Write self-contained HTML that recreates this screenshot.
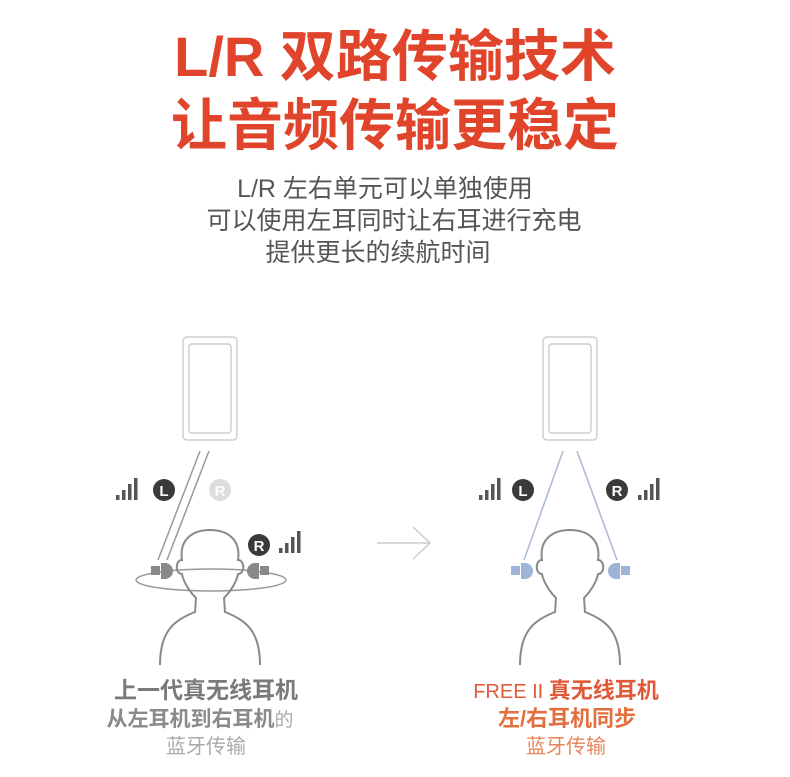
<!DOCTYPE html>
<html><head><meta charset="utf-8"><style>
html,body{margin:0;padding:0;background:#fff;}
svg{display:block;}
text{font-family:"Liberation Sans","Noto Sans CJK SC",sans-serif;}
</style></head><body>
<svg width="790" height="777" viewBox="0 0 790 777" xmlns="http://www.w3.org/2000/svg">
<defs>
<g id="head">
<path d="M-50,665 C-50,630 -35,620 -15,612 L-14,598 C-22,590 -27,580 -28,574 C-35,574 -35,560 -28,560 C-31,540 -18,530 0,530 C18,530 31,540 28,560 C35,560 35,574 28,574 C27,580 22,590 14,598 L15,612 C35,620 50,630 50,665" fill="none" stroke="#8a8a8a" stroke-width="2"/>
</g>
<g id="phone">
<rect x="0" y="0" width="54" height="103" rx="4" fill="none" stroke="#cfcfcf" stroke-width="1.5"/>
<rect x="6" y="7" width="42" height="89" rx="3" fill="none" stroke="#cfcfcf" stroke-width="1.5"/>
</g>
<g id="bars">
<rect x="0" y="17" width="3.5" height="5" fill="#555"/>
<rect x="6" y="12" width="3.5" height="10" fill="#555"/>
<rect x="12" y="6" width="3.5" height="16" fill="#555"/>
<rect x="18" y="0" width="3.5" height="22" fill="#555"/>
</g>
</defs>

<text x="395" y="76" text-anchor="middle" font-size="56" font-weight="bold" fill="#e0442a">L/R 双路传输技术</text>
<text x="395" y="145" text-anchor="middle" font-size="56" font-weight="bold" fill="#e0442a">让音频传输更稳定</text>
<text x="385" y="197" text-anchor="middle" font-size="25" fill="#555">L/R 左右单元可以单独使用</text>
<text x="394" y="229" text-anchor="middle" font-size="25" fill="#555">可以使用左耳同时让右耳进行充电</text>
<text x="378" y="261" text-anchor="middle" font-size="25" fill="#555">提供更长的续航时间</text>

<!-- left diagram -->
<use href="#phone" x="183" y="337"/>
<line x1="200" y1="451" x2="158" y2="560" stroke="#999" stroke-width="1.5"/>
<line x1="209" y1="451" x2="167" y2="560" stroke="#999" stroke-width="1.5"/>
<use href="#bars" x="116" y="478"/>
<circle cx="164" cy="490" r="11" fill="#3a3a3a"/>
<text x="164" y="496" text-anchor="middle" font-size="15" font-weight="bold" fill="#fff">L</text>
<circle cx="220" cy="490" r="11" fill="#ddd"/>
<text x="220" y="496" text-anchor="middle" font-size="15" font-weight="bold" fill="#fff">R</text>
<circle cx="259" cy="545" r="11" fill="#3a3a3a"/>
<text x="259" y="551" text-anchor="middle" font-size="15" font-weight="bold" fill="#fff">R</text>
<use href="#bars" x="279" y="531"/>
<ellipse cx="211" cy="580" rx="75" ry="11" fill="none" stroke="#999" stroke-width="1.5"/>
<use href="#head" x="210" y="0"/>
<rect x="151" y="566" width="9" height="9" fill="#888"/>
<path d="M161,563 h4 a8,8 0 0 1 0,16 h-4 z" fill="#888"/>
<rect x="260" y="566" width="9" height="9" fill="#888"/>
<path d="M259,563 h-4 a8,8 0 0 0 0,16 h4 z" fill="#888"/>

<!-- arrow -->
<line x1="377" y1="543" x2="430" y2="543" stroke="#ccc" stroke-width="1.5"/>
<polyline points="413,527 430,543 413,559" fill="none" stroke="#ccc" stroke-width="1.5"/>

<!-- right diagram -->
<use href="#phone" x="543" y="337"/>
<line x1="563" y1="451" x2="524" y2="560" stroke="#a9b8d4" stroke-width="1.5"/>
<line x1="577" y1="451" x2="617" y2="560" stroke="#a9b8d4" stroke-width="1.5"/>
<use href="#bars" x="479" y="478"/>
<circle cx="523" cy="490" r="11" fill="#3a3a3a"/>
<text x="523" y="496" text-anchor="middle" font-size="15" font-weight="bold" fill="#fff">L</text>
<circle cx="617" cy="490" r="11" fill="#3a3a3a"/>
<text x="617" y="496" text-anchor="middle" font-size="15" font-weight="bold" fill="#fff">R</text>
<use href="#bars" x="638" y="478"/>
<use href="#head" x="570" y="0"/>
<rect x="511" y="566" width="9" height="9" fill="#9fb3d6"/>
<path d="M521,563 h4 a8,8 0 0 1 0,16 h-4 z" fill="#9fb3d6"/>
<rect x="621" y="566" width="9" height="9" fill="#9fb3d6"/>
<path d="M620,563 h-4 a8,8 0 0 0 0,16 h4 z" fill="#9fb3d6"/>

<!-- captions -->
<text x="206" y="698" text-anchor="middle" font-size="23" font-weight="bold" fill="#7a7a7a">上一代真无线耳机</text>
<text x="200" y="726" text-anchor="middle" font-size="21" font-weight="bold" fill="#8a8a8a">从左耳机到右耳机<tspan font-weight="normal" font-size="19" fill="#aaa">的</tspan></text>
<text x="206" y="753" text-anchor="middle" font-size="20" fill="#aaa">蓝牙传输</text>
<text x="566" y="698" text-anchor="middle" font-size="22" fill="#e05a3a"><tspan font-size="20">FREE II </tspan><tspan font-weight="bold">真无线耳机</tspan></text>
<text x="567" y="726" text-anchor="middle" font-size="22" font-weight="bold" fill="#e2703f">左/右耳机同步</text>
<text x="566" y="753" text-anchor="middle" font-size="20" fill="#e8855a">蓝牙传输</text>
</svg>
</body></html>
